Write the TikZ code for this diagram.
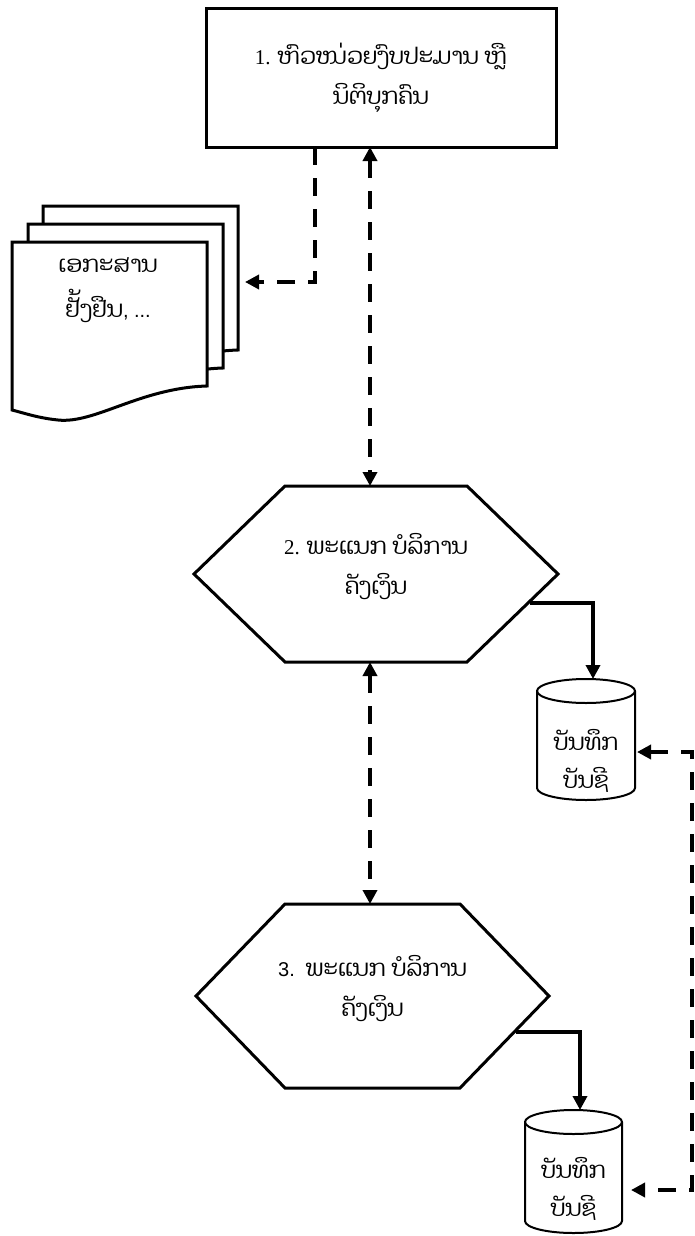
\documentclass[tikz,border=0pt]{standalone}
\usepackage{fontspec}
\usetikzlibrary{arrows.meta}
\newfontfamily\laofont[Script=Lao]{Dhyana}
\newfontfamily\serifdig{Liberation Serif}
\newfontfamily\sansdig{Liberation Sans}
\begin{document}
\begin{tikzpicture}[x=1pt,y=-1pt,
  >={Triangle[width=14pt,length=14pt]},
  lbl/.style={font=\laofont\fontsize{23}{40}\selectfont, align=center, inner sep=0pt, outer sep=0pt},
  shapebox/.style={inner sep=0pt, outer sep=0pt},
  bx/.style={draw, line width=3pt, minimum width=350pt, minimum height=138pt, inner sep=0pt, outer sep=0pt,
             font=\laofont\fontsize{23}{40}\selectfont, align=center},
  hexline/.style={line width=3pt, line join=miter},
  cylline/.style={line width=2pt, fill=white},
  pageline/.style={line width=3pt, fill=white, line join=miter},
  dline/.style={line width=4pt, dash pattern=on 18pt off 13pt},
  sline/.style={line width=4pt}]
\useasboundingbox (0,0) rectangle (695,1236);

% box 1
\node[bx] (b1) at (381,78) {{\serifdig\fontsize{21}{40}\selectfont 1. }ຫົວໜ່ວຍງົບປະມານ ຫຼື\\ນິຕິບຸກຄົນ};

% document stack
\foreach \dx/\dy in {31/-36,16/-18,0/0}
  \draw[pageline, shift={(\dx,\dy)}] (12,242) -- (207,242) -- (207,386)
     .. controls (140,388) and (95,424) .. (58,420)
     .. controls (38,418) and (24,413) .. (12,410) -- cycle;
\node[shapebox, minimum width=195pt, minimum height=146pt] (dk) at (140.5,279) {};
\node[lbl, font=\laofont\fontsize{23}{45}\selectfont] (doc) at (108,290) {ເອກະສານ\\ຢັ້ງຢືນ{\sansdig\fontsize{20}{45}\selectfont , ...}};

% hexagon 2
\node[shapebox, minimum width=364pt, minimum height=176pt] (h2) at (376,574) {};
\draw[hexline] (h2.west) -- ([xshift=91pt]h2.north west) -- ([xshift=-91pt]h2.north east)
   -- (h2.east) -- ([xshift=-91pt]h2.south east) -- ([xshift=91pt]h2.south west) -- cycle;
\node[lbl] (t2) at (376,567) {{\serifdig\fontsize{21}{40}\selectfont 2. }ພະແນກ ບໍລິການ\\ຄັງເງິນ};

% hexagon 3
\node[shapebox, minimum width=353pt, minimum height=184pt] (h3) at (372.5,996) {};
\draw[hexline] (h3.west) -- ([xshift=89pt]h3.north west) -- ([xshift=-89pt]h3.north east)
   -- (h3.east) -- ([xshift=-89pt]h3.south east) -- ([xshift=89pt]h3.south west) -- cycle;
\node[lbl] (t3) at (372.5,989) {{\sansdig\fontsize{20}{40}\selectfont 3.\ \ }ພະແນກ ບໍລິການ\\ຄັງເງິນ};

% cylinder 1
\node[shapebox, minimum width=98pt, minimum height=121pt] (c1) at (586,739.5) {};
\draw[cylline] ([yshift=-12pt]c1.north west) -- ([yshift=12pt]c1.south west)
   arc[start angle=180, end angle=360, x radius=49pt, y radius=12pt]
   -- ([yshift=-12pt]c1.north east)
   arc[start angle=0, end angle=180, x radius=49pt, y radius=12pt] -- cycle;
\draw[line width=2pt] ([yshift=-12pt]c1.north west) arc[start angle=180, end angle=360, x radius=49pt, y radius=12pt];
\node[lbl, font=\laofont\fontsize{23}{38}\selectfont] (tc1) at (586,761) {ບັນທຶກ\\ບັນຊີ};

% cylinder 2
\node[shapebox, minimum width=97pt, minimum height=123pt] (c2) at (573.5,1171.5) {};
\draw[cylline] ([yshift=-12pt]c2.north west) -- ([yshift=12pt]c2.south west)
   arc[start angle=180, end angle=360, x radius=48.5pt, y radius=12pt]
   -- ([yshift=-12pt]c2.north east)
   arc[start angle=0, end angle=180, x radius=48.5pt, y radius=12pt] -- cycle;
\draw[line width=2pt] ([yshift=-12pt]c2.north west) arc[start angle=180, end angle=360, x radius=48.5pt, y radius=12pt];
\node[lbl, font=\laofont\fontsize{23}{38}\selectfont] (tc2) at (573.5,1189) {ບັນທຶກ\\ບັນຊີ};

% connectors
\draw[dline,->] ([xshift=-66pt]b1.south) |- ([xshift=7pt,yshift=-3pt]dk.east);
\draw[dline,<->] ([xshift=-11pt]b1.south) -- ([xshift=-6pt]h2.north);
\draw[dline,<->] ([xshift=-6pt]h2.south) -- ([xshift=-2.5pt]h3.north);
\draw[sline,->] ([xshift=-28pt,yshift=-29pt]h2.east) -| ([xshift=7pt]c1.north);
\draw[sline,->] ([xshift=-33pt,yshift=-36pt]h3.east) -| ([xshift=6.5pt]c2.north);
\draw[dline,<->] ([xshift=2pt,yshift=-12.5pt]c1.east) -- ++(55,0) |- ([xshift=9pt,yshift=-18.5pt]c2.east);
\end{tikzpicture}
\end{document}
